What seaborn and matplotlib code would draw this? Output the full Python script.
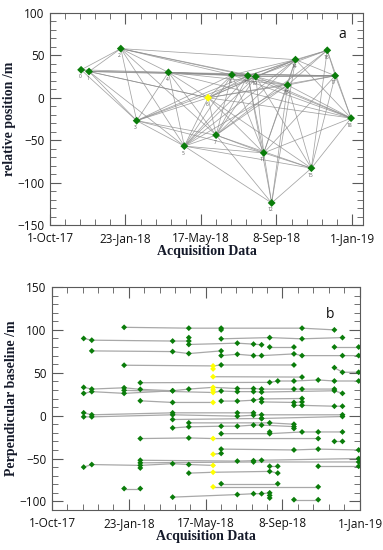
import numpy as np
import pandas as pd
import matplotlib
matplotlib.use("Agg")
import matplotlib.pyplot as plt
import matplotlib.dates as mdates
from matplotlib.ticker import FuncFormatter, MultipleLocator, FixedLocator
import seaborn as sns

# acquisition dates (12 day revisit) and relative position of each scene
acq_dates = pd.to_datetime([
    "2017-11-17", "2017-11-29", "2018-01-16", "2018-02-09", "2018-03-29",
    "2018-04-22", "2018-05-28", "2018-06-09", "2018-07-03", "2018-07-27",
    "2018-08-08", "2018-08-20", "2018-09-01", "2018-09-25", "2018-10-07",
    "2018-10-31", "2018-11-24", "2018-12-06", "2018-12-30"])
rel_pos = [33, 31, 58, -27, 30, -57, 0, -44, 27, 26, 25, -65, -124, 15, 45, -83, 56, 26, -24]
master = 6

# interferometric pairs drawn in panel a (scene index pairs)
pairs = [
    (0, 1), (0, 2), (0, 3), (0, 4), (0, 6),
    (1, 2), (1, 3), (1, 4), (1, 6), (1, 9), (1, 17), (1, 5),
    (2, 3), (2, 4), (2, 5), (2, 9), (2, 10), (2, 14), (2, 8), (2, 7),
    (3, 4), (3, 6), (3, 7), (3, 8), (3, 9), (3, 10), (3, 5), (3, 11),
    (4, 5), (4, 6), (4, 8), (4, 9), (4, 10), (4, 13), (4, 17), (4, 7), (4, 18),
    (5, 6), (5, 7), (5, 8), (5, 9), (5, 10), (5, 11), (5, 12), (5, 13), (5, 14), (5, 15),
    (6, 7), (6, 8), (6, 9), (6, 10), (6, 11), (6, 13), (6, 14), (6, 17), (6, 18), (6, 15),
    (7, 8), (7, 9), (7, 10), (7, 11), (7, 12), (7, 13), (7, 14), (7, 15), (7, 16),
    (8, 9), (8, 10), (8, 11), (8, 13), (8, 14), (8, 17), (8, 18),
    (9, 10), (9, 11), (9, 12), (9, 14), (9, 16), (9, 17), (9, 18),
    (10, 11), (10, 13), (10, 14), (10, 16), (10, 17), (10, 18), (10, 15),
    (11, 12), (11, 13), (11, 14), (11, 15), (11, 17), (11, 18),
    (12, 15), (12, 13), (12, 14),
    (13, 14), (13, 16), (13, 17), (13, 18), (13, 15),
    (14, 16), (14, 17), (14, 18),
    (15, 16), (15, 18), (15, 17),
    (16, 17), (16, 18), (17, 18)]

# panel b: chains of (scene index, perpendicular baseline /m)
baseline_rows = [
    [(2, 103), (5, 102), (7, 102), (14, 102), (16, 100)],
    [(7, 100)],
    [(0, 90), (1, 88), (4, 87), (5, 87)],
    [(5, 83), (8, 84.5), (9, 83.4), (10, 82.6)],
    [(5, 91)],
    [(7, 89.6), (11, 91), (14, 89.6), (17, 91)],
    [(11, 80), (13, 80)],
    [(16, 80), (18, 80)],
    [(1, 75.5), (4, 74.7), (5, 72.4), (7, 75.5)],
    [(7, 70), (8, 71.6), (9, 70), (10, 70), (13, 72), (14, 70), (17, 70), (18, 70)],
    [(2, 58.8), (6, 58), (7, 59.1), (13, 59.1)],
    [(6, 54.5)],
    [(16, 56), (17, 50.6), (18, 50.6)],
    [(6, 45.4), (14, 45)],
    [(3, 38.4), (11, 38.8), (12, 40.4), (13, 40.4), (15, 41.6), (16, 40.4), (18, 40.4)],
    [(0, 33), (1, 31), (2, 32.5), (3, 30.7), (4, 29), (5, 31), (6, 33), (8, 31.6),
     (9, 31.6), (10, 31), (13, 31), (14, 31), (16, 31)],
    [(0, 26), (1, 28), (2, 26), (4, 29)],
    [(2, 29.5), (6, 27), (7, 28.7), (8, 28), (9, 28), (10, 27.5), (16, 29), (17, 26)],
    [(6, 30)],
    [(3, 17.3), (4, 15.4), (6, 15.4)],
    [(7, 17), (8, 17), (9, 18), (10, 19.5), (14, 20)],
    [(10, 16), (13, 15.4), (14, 16)],
    [(13, 12), (14, 12), (16, 11), (17, 11)],
    [(0, 3.3), (1, 1), (4, 3.3), (8, 3.3), (9, 3.3)],
    [(0, -1.4), (1, -1.4), (4, 1), (8, -0.6), (9, 0.5), (10, 1), (17, 1)],
    [(10, -3.3), (17, -1)],
    [(4, -4.5), (10, -3.3)],
    [(5, -8.4), (11, -8.4), (13, -10)],
    [(4, -14.3), (5, -13), (7, -12.3), (8, -12.3), (9, -11), (10, -11), (13, -12.8)],
    [(13, -15)],
    [(7, -21), (11, -21), (14, -19), (15, -19), (17, -19)],
    [(11, -19)],
    [(3, -26.7), (5, -26), (6, -26.7), (15, -26.7)],
    [(16, -30), (17, -30)],
    [(7, -39), (13, -40), (15, -39), (18, -40)],
    [(6, -45), (7, -44)],
    [(3, -52), (8, -53), (9, -52.5), (10, -52), (18, -50)],
    [(3, -55), (9, -54), (18, -54)],
    [(0, -60), (1, -57), (3, -58), (4, -56), (5, -57), (6, -58)],
    [(3, -61)],
    [(11, -59), (12, -59)],
    [(15, -59), (18, -59)],
    [(5, -67), (6, -66), (11, -65), (12, -67)],
    [(7, -79.4), (12, -79.4)],
    [(6, -83), (15, -83)],
    [(2, -85), (3, -85)],
    [(4, -95), (8, -92), (9, -91), (10, -91), (11, -90)],
    [(11, -93)], [(11, -96)],
    [(13, -98), (15, -98)],
]

major_dates = pd.to_datetime(["2017-10-01", "2018-01-23", "2018-05-17", "2018-09-08", "2019-01-01"])

sns.set_theme(style="ticks")
plt.rcParams["font.family"] = ["Open Sans", "DejaVu Sans"]

green = "#0a7d0a"
yellow = "#ffff00"
frame = "#5a5a5a"

# tidy tables for seaborn
nodes = pd.DataFrame({"date": acq_dates, "pos": rel_pos, "idx": range(len(rel_pos))})
nodes["role"] = np.where(nodes["idx"] == master, "master", "slave")

edge_rows = []
for k, (i, j) in enumerate(pairs):
    edge_rows.append({"pair": k, "date": acq_dates[i], "pos": rel_pos[i]})
    edge_rows.append({"pair": k, "date": acq_dates[j], "pos": rel_pos[j]})
edge_df = pd.DataFrame(edge_rows)

bl_rows = []
for k, chain in enumerate(baseline_rows):
    for order, (i, v) in enumerate(chain):
        bl_rows.append({"row": k, "order": order, "date": acq_dates[i], "bperp": v,
                        "role": "master" if i == master else "slave"})
bl_df = pd.DataFrame(bl_rows)

fig = plt.figure(figsize=(3.83, 5.5), dpi=100)
ax1 = fig.add_axes([50 / 383, 1 - 225 / 550, 313 / 383, 212 / 550])
ax2 = fig.add_axes([52 / 383, 1 - 510 / 550, 308 / 383, 223 / 550])


def date_fmt(x, pos=None):
    d = mdates.num2date(x)
    return f"{d.day}-{d.strftime('%b-%y')}"


def style_axis(ax):
    nums = mdates.date2num(major_dates)
    ax.xaxis.set_major_locator(FixedLocator(nums))
    minors = []
    for a, b in zip(nums[:-1], nums[1:]):
        minors += list(np.linspace(a, b, 6)[1:-1])
    minors.append(nums[-1] + (nums[1] - nums[0]) / 5)
    ax.xaxis.set_minor_locator(FixedLocator(minors))
    ax.xaxis.set_major_formatter(FuncFormatter(date_fmt))
    ax.yaxis.set_major_locator(MultipleLocator(50))
    ax.yaxis.set_minor_locator(MultipleLocator(10))
    ax.tick_params(which="both", direction="in", top=True, right=True, colors=frame,
                   labelcolor="#111111", labelsize=8.5)
    ax.tick_params(which="major", length=8, width=0.8)
    ax.tick_params(axis="x", which="major", pad=5)
    ax.tick_params(axis="y", which="major", pad=4)
    ax.tick_params(which="minor", length=4, width=0.6)
    for s in ax.spines.values():
        s.set_color(frame)
        s.set_linewidth(0.8)
    ax.set_xlabel("Acquisition Data", family="Liberation Serif", weight="bold",
                  fontsize=10, color="#151a2a", labelpad=0)


# ---- panel a: network of pairs ----
sns.lineplot(data=edge_df, x="date", y="pos", units="pair", estimator=None, sort=False,
             color="#8c8c8c", lw=0.55, alpha=0.8, ax=ax1)
sns.scatterplot(data=nodes, x="date", y="pos", hue="role",
                palette={"master": yellow, "slave": green}, marker="D", s=16,
                linewidth=0, legend=False, zorder=5, ax=ax1)
for _, r in nodes.iterrows():
    ax1.annotate(str(r["idx"]), (mdates.date2num(r["date"]), r["pos"]),
                 xytext=(-1, -5), textcoords="offset points", fontsize=3.5,
                 color="#555555", ha="center", va="center")
ax1.set_xlim(mdates.date2num(pd.Timestamp("2017-10-01")),
             mdates.date2num(pd.Timestamp("2019-01-17")))
ax1.set_ylim(-150, 100)
style_axis(ax1)
ax1.set_ylabel("relative position /m", family="Liberation Serif", weight="bold",
               fontsize=10, color="#151a2a", labelpad=1)
ax1.text(0.92, 0.88, "a", transform=ax1.transAxes, fontsize=10, color="#111111")

# ---- panel b: baseline plot ----
sns.lineplot(data=bl_df, x="date", y="bperp", units="row", estimator=None, sort=False,
             color="#a8a8a8", lw=0.9, ax=ax2)
sns.scatterplot(data=bl_df, x="date", y="bperp", hue="role",
                palette={"master": yellow, "slave": green}, marker="D", s=9,
                linewidth=0, legend=False, zorder=5, ax=ax2)
ax2.set_xlim(mdates.date2num(pd.Timestamp("2017-10-01")),
             mdates.date2num(pd.Timestamp("2019-01-01")))
ax2.set_ylim(-110, 150)
style_axis(ax2)
ax2.set_ylabel("Perpendicular baseline /m", family="Liberation Serif", weight="bold",
               fontsize=10, color="#151a2a", labelpad=1)
ax2.text(0.89, 0.86, "b", transform=ax2.transAxes, fontsize=10, color="#111111")

fig.savefig("out.png", dpi=100)
